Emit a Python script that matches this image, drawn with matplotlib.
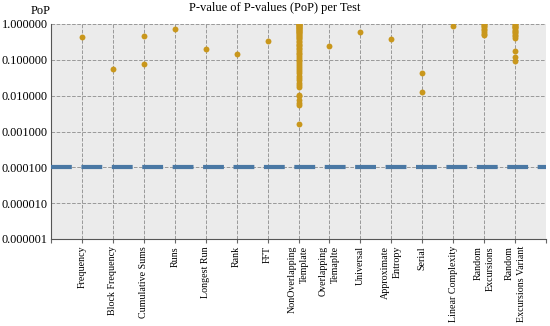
import matplotlib.pyplot as plt
from matplotlib.ticker import FuncFormatter

plt.rcParams['font.family'] = ['Liberation Serif', 'DejaVu Serif']

tests = ['Frequency', 'Block Frequency', 'Cumulative Sums', 'Runs', 'Longest Run',
         'Rank', 'FFT', 'NonOverlapping\nTemplate', 'Overlapping\nTemaplte', 'Universal',
         'Approximate\nEntropy', 'Serial', 'Linear Complexity', 'Random\nExcursions',
         'Random\nExcursions Variant']

frequency = [0.44]
block_frequency = [0.057]
cumulative_sums = [0.47, 0.079]
runs = [0.71]
longest_run = [0.195]
rank = [0.145]
fft = [0.33]
non_overlapping = [0.99, 0.97, 0.95, 0.93, 0.91, 0.88, 0.85, 0.82, 0.79, 0.76, 0.73, 0.70,
                   0.67, 0.64, 0.61, 0.58, 0.55, 0.52, 0.49, 0.46, 0.43, 0.40, 0.37, 0.34,
                   0.31, 0.28, 0.26, 0.24, 0.22, 0.20, 0.18, 0.16, 0.145, 0.13, 0.115, 0.10,
                   0.09, 0.08, 0.07, 0.062, 0.055, 0.048, 0.042, 0.036, 0.031, 0.027, 0.023,
                   0.020, 0.017, 0.0105, 0.0095, 0.0075, 0.0062, 0.0054, 0.0016]
overlapping = [0.24]
universal = [0.61]
approx_entropy = [0.37]
serial = [0.043, 0.0127]
linear_complexity = [0.90]
random_exc = [0.98, 0.93, 0.88, 0.82, 0.74, 0.66, 0.58, 0.52, 0.49]
random_exc_var = [0.99, 0.95, 0.90, 0.85, 0.80, 0.75, 0.70, 0.65, 0.60, 0.55, 0.50, 0.45,
                  0.41, 0.18, 0.12, 0.095]

pop_values = [frequency, block_frequency, cumulative_sums, runs, longest_run, rank, fft,
              non_overlapping, overlapping, universal, approx_entropy, serial,
              linear_complexity, random_exc, random_exc_var]
threshold = 0.0001

fig = plt.figure(figsize=(5.5, 3.26), dpi=100)
ax = fig.add_axes([51 / 550, 1 - 239 / 326, 495 / 550, 215 / 326])
ax.set_facecolor('#ebebeb')

ax.axhline(threshold, color='#4a78a4', lw=3, linestyle=(0, (5.0, 2.3)), zorder=3)
for i, vals in enumerate(pop_values):
    ax.scatter([i + 1] * len(vals), vals, s=18, color='#c9971c', zorder=4, linewidths=0)

ax.set_yscale('log')
ax.set_ylim(1e-6, 1)
ax.set_xlim(0, 16)
ax.yaxis.set_major_formatter(FuncFormatter(lambda v, p: '%.6f' % v))
ax.minorticks_off()
ax.set_xticks(range(0, 17))
ax.set_xticklabels([''] + tests + [''], rotation=90, multialignment='right', linespacing=1.45)
ax.tick_params(axis='x', labelsize=7.2, color='#666666', length=3, pad=2)
ax.tick_params(axis='y', labelsize=8.8, length=0, pad=2.5)
ax.grid(True, color='#999999', linestyle='--', linewidth=0.7, zorder=1)
ax.set_axisbelow(True)
for s in ['top', 'right']:
    ax.spines[s].set_visible(False)
for s in ['left', 'bottom']:
    ax.spines[s].set_color('#555555')

fig.text(275 / 550, 1 - 8 / 326, 'P-value of P-values (PoP) per Test', ha='center', va='center', fontsize=9)
fig.text(41 / 550, 1 - 11 / 326, 'PoP', ha='center', va='center', fontsize=9)

fig.savefig('out.png', dpi=100)
